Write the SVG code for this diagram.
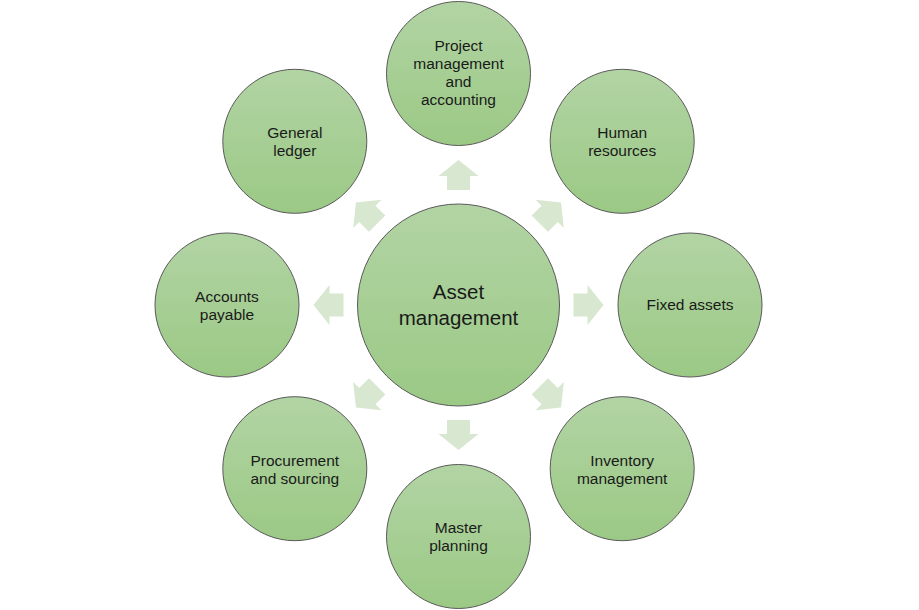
<svg xmlns="http://www.w3.org/2000/svg" width="919" height="610" viewBox="0 0 919 610">
<defs>
<linearGradient id="g" x1="0" y1="0" x2="0" y2="1">
<stop offset="0" stop-color="#b2d4a4"/>
<stop offset="1" stop-color="#9bc985"/>
</linearGradient>
<path id="arr" d="M0,-145 L20,-129 L11.5,-129 L11.5,-115 L-11.5,-115 L-11.5,-129 L-20,-129 Z"/>
</defs>
<style>
.node circle{fill:url(#g);stroke:#595959;stroke-width:1}
.node text{font-family:"Liberation Sans",Arial,sans-serif;font-size:15.5px;fill:#1a1a1a;text-anchor:middle}
#center text{font-size:20.5px}
.arrow{fill:#d8e7d0}
</style>
<rect width="919" height="610" fill="#ffffff"/>
<g id="connectors" transform="translate(458.5,305)">
<use href="#arr" class="arrow"/>
<use href="#arr" class="arrow" transform="rotate(45)"/>
<use href="#arr" class="arrow" transform="rotate(90)"/>
<use href="#arr" class="arrow" transform="rotate(135)"/>
<use href="#arr" class="arrow" transform="rotate(180)"/>
<use href="#arr" class="arrow" transform="rotate(225)"/>
<use href="#arr" class="arrow" transform="rotate(270)"/>
<use href="#arr" class="arrow" transform="rotate(315)"/>
</g>
<g id="center" class="node">
<circle cx="458.5" cy="305" r="101"/>
<text x="458.5" y="299">Asset</text>
<text x="458.5" y="325">management</text>
</g>
<g id="project" class="node">
<circle cx="458.5" cy="73.5" r="72"/>
<text x="458.5" y="51">Project</text>
<text x="458.5" y="69">management</text>
<text x="458.5" y="87">and</text>
<text x="458.5" y="105">accounting</text>
</g>
<g id="human" class="node">
<circle cx="622.2" cy="141.3" r="72"/>
<text x="622.2" y="138">Human</text>
<text x="622.2" y="156">resources</text>
</g>
<g id="fixed" class="node">
<circle cx="690" cy="305" r="72"/>
<text x="690" y="310">Fixed assets</text>
</g>
<g id="inventory" class="node">
<circle cx="622.2" cy="468.7" r="72"/>
<text x="622.2" y="465.5">Inventory</text>
<text x="622.2" y="483.5">management</text>
</g>
<g id="master" class="node">
<circle cx="458.5" cy="536.5" r="72"/>
<text x="458.5" y="533">Master</text>
<text x="458.5" y="551">planning</text>
</g>
<g id="procurement" class="node">
<circle cx="294.8" cy="468.7" r="72"/>
<text x="294.8" y="465.5">Procurement</text>
<text x="294.8" y="483.5">and sourcing</text>
</g>
<g id="accounts" class="node">
<circle cx="227" cy="305" r="72"/>
<text x="227" y="302">Accounts</text>
<text x="227" y="320">payable</text>
</g>
<g id="general" class="node">
<circle cx="294.8" cy="141.3" r="72"/>
<text x="294.8" y="138">General</text>
<text x="294.8" y="156">ledger</text>
</g>
</svg>
